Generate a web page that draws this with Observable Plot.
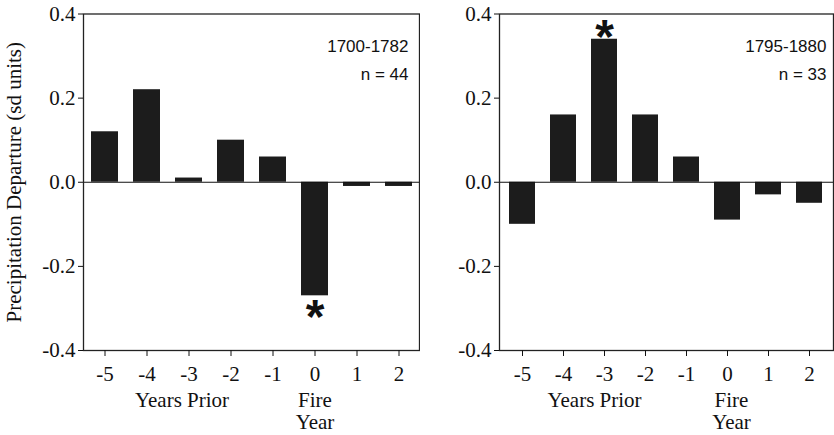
<!DOCTYPE html>
<html>
<head>
<meta charset="utf-8">
<script src="https://cdn.jsdelivr.net/npm/d3@7"></script>
<script src="https://cdn.jsdelivr.net/npm/@observablehq/plot@0.6"></script>
<style>
  html, body { margin: 0; padding: 0; background: #fff; }
  #wrap { display: flex; flex-direction: row; width: 834px; height: 435px; overflow: hidden; }
  svg { display: block; }
</style>
</head>
<body>
<div id="wrap"></div>
<script>
const years = ["-5", "-4", "-3", "-2", "-1", "0", "1", "2"];
const early = [0.12, 0.22, 0.01, 0.10, 0.06, -0.27, -0.01, -0.01];
const late = [-0.10, 0.16, 0.34, 0.16, 0.06, -0.09, -0.03, -0.05];
const yTicks = [-0.4, -0.2, 0.0, 0.2, 0.4];
const periods = ["1700-1782", "1795-1880"];
const counts = [44, 33];
const starred = ["0", "-3"];
const groupYears = ["-3", "0"];
const groupTexts = ["Years Prior", "Fire\nYear"];
const yTitle = "Precipitation Departure (sd units)";

const SERIF = "Liberation Serif, Times New Roman, serif";
const SANS = "Liberation Sans, Arial, sans-serif";

function panel(idx, values, opts) {
  const data = years.map((yr, i) => ({year: yr, value: values[i]}));
  const stars = data.filter(d => d.year === starred[idx]);
  const groups = groupYears.map((yr, i) => ({year: yr, text: groupTexts[i]}));
  return Plot.plot({
    width: opts.width,
    height: 435,
    marginLeft: opts.marginLeft,
    marginRight: 1,
    marginTop: 13.5,
    marginBottom: 85,
    style: {fontFamily: SERIF, fontSize: "21px", background: "#fff", color: "#111"},
    x: {domain: years, paddingInner: 0.36, paddingOuter: 0.18},
    y: {domain: [-0.4, 0.4]},
    marks: [
      Plot.barY(data, {x: "year", y: "value", fill: "#1c1c1c"}),
      Plot.ruleY([0], {stroke: "#111", strokeWidth: 1.2}),
      Plot.frame({stroke: "#222", strokeWidth: 1.3}),
      Plot.axisY({
        ticks: yTicks, tickSize: 5, tickPadding: 3,
        tickFormat: d => d.toFixed(1),
        fontSize: 21, fontFamily: SERIF,
        label: opts.showLabel ? yTitle : null,
        labelAnchor: "center", labelArrow: "none", labelOffset: 77
      }),
      Plot.axisX({
        tickSize: 6, tickPadding: 10, fontSize: 21, fontFamily: SERIF, label: null
      }),
      Plot.text(groups.filter(g => g.year === groupYears[0]), {
        x: "year", y: () => -0.4, text: "text", fontSize: 21, fontFamily: SERIF,
        lineAnchor: "top", dy: 40, dx: opts.dxYears, lineHeight: 1.08
      }),
      Plot.text(groups.filter(g => g.year === groupYears[1]), {
        x: "year", y: () => -0.4, text: "text", fontSize: 21, fontFamily: SERIF,
        lineAnchor: "top", dy: 40, dx: opts.dxFire, lineHeight: 1.08
      }),
      Plot.text([`${periods[idx]}\nn = ${counts[idx]}`], {
        frameAnchor: "top-right", textAnchor: "end", lineAnchor: "top",
        dx: opts.dxPeriod, dy: 19, fontSize: 17, fontFamily: SANS, lineHeight: 1.6, fill: "#111"
      }),
      Plot.text(stars.filter(d => d.value < 0), {
        x: "year", y: "value", text: () => "*", fontSize: 48, fontWeight: "bold",
        fontFamily: SANS, lineAnchor: "middle", dy: 22, fill: "#111"
      }),
      Plot.text(stars.filter(d => d.value >= 0), {
        x: "year", y: "value", text: () => "*", fontSize: 48, fontWeight: "bold",
        fontFamily: SANS, lineAnchor: "middle", dy: -2, fill: "#111"
      })
    ]
  });
}

const wrap = document.getElementById("wrap");
wrap.appendChild(panel(0, early, {width: 420, marginLeft: 83, showLabel: true, dxYears: -7, dxFire: 0, dxPeriod: -11}));
wrap.appendChild(panel(1, late, {width: 414, marginLeft: 79, showLabel: false, dxYears: -10, dxFire: 4, dxPeriod: -7}));
</script>
</body>
</html>
